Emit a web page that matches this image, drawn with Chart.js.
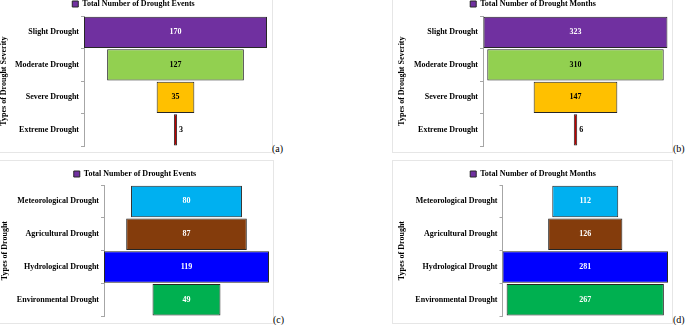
<!DOCTYPE html>
<html>
<head>
<meta charset="utf-8">
<script src="https://cdn.jsdelivr.net/npm/chart.js@4.4.0/dist/chart.umd.min.js"></script>
<style>
  body { margin: 0; background: #fff; width: 685px; height: 325px; overflow: hidden; position: relative; }
  .frame { position: absolute; box-sizing: border-box; border: 1px solid #e6e6e6; }
  canvas { position: absolute; }
  .tag { position: absolute; font: 10px "Liberation Serif", serif; line-height: 12px; color: #000; }
</style>
</head>
<body>
<div class="frame" style="left:-1px;top:-1px;width:274px;height:154px"></div>
<div class="frame" style="left:392px;top:-1px;width:281px;height:154px"></div>
<div class="frame" style="left:-1px;top:160px;width:275px;height:164px"></div>
<div class="frame" style="left:392px;top:160px;width:281px;height:164px"></div>

<canvas id="chartA" width="272" height="153" style="left:0;top:0"></canvas>
<canvas id="chartB" width="281" height="153" style="left:392px;top:0"></canvas>
<canvas id="chartC" width="273" height="163" style="left:0;top:160px"></canvas>
<canvas id="chartD" width="281" height="163" style="left:392px;top:160px"></canvas>

<span class="tag" style="left:272px;top:143px">(a)</span>
<span class="tag" style="left:673px;top:143px">(b)</span>
<span class="tag" style="left:273px;top:314px">(c)</span>
<span class="tag" style="left:673px;top:314px">(d)</span>

<script>
const severityLabels = ["Slight Drought", "Moderate Drought", "Severe Drought", "Extreme Drought"];
const severityEvents = [170, 127, 35, 3];
const severityMonths = [323, 310, 147, 6];

const typeLabels = ["Meteorological Drought", "Agricultural Drought", "Hydrological Drought", "Environmental Drought"];
const typeEvents = [80, 87, 119, 49];
const typeMonths = [112, 126, 281, 267];

const severityColors = ["#7030A0", "#92D050", "#FFC000", "#C00000"];
const typeColors = ["#00B0F0", "#843C0C", "#0000FF", "#00B050"];

const FONT = "'Liberation Serif', 'Times New Roman', serif";

// writes the value in the middle of each bar, or just right of it when the bar is too thin
const valueLabels = {
  id: "valueLabels",
  afterDatasetsDraw(chart) {
    const ctx = chart.ctx;
    const ds = chart.data.datasets[0];
    const meta = chart.getDatasetMeta(0);
    ctx.save();
    ctx.font = "bold 8px " + FONT;
    ctx.textBaseline = "middle";
    meta.data.forEach((bar, i) => {
      const text = String(ds.values[i]);
      const left = Math.min(bar.x, bar.base);
      const right = Math.max(bar.x, bar.base);
      const w = ctx.measureText(text).width;
      if (right - left < w + 6) {
        ctx.fillStyle = "#000";
        ctx.textAlign = "left";
        ctx.fillText(text, right + 2, bar.y);
      } else {
        ctx.fillStyle = ds.textColors[i];
        ctx.textAlign = "center";
        ctx.fillText(text, (left + right) / 2, bar.y);
      }
    });
    ctx.restore();
  },
};

function funnelChart(id, labels, values, cfg) {
  const ctx = document.getElementById(id).getContext("2d");
  return new Chart(ctx, {
    type: "bar",
    data: {
      labels: labels,
      datasets: [
        {
          label: cfg.legend,
          data: values.map((v) => [-v / 2, v / 2]),
          values: values,
          textColors: cfg.textColors,
          backgroundColor: cfg.colors,
          borderColor: "#262626",
          borderWidth: 1,
          borderSkipped: false,
          barPercentage: 0.96,
          categoryPercentage: 1,
        },
      ],
    },
    options: {
      indexAxis: "y",
      responsive: false,
      animation: false,
      layout: { padding: cfg.padding },
      plugins: {
        tooltip: { enabled: false },
        legend: {
          position: "top",
          maxHeight: cfg.legendHeight,
          labels: {
            padding: 0,
            boxWidth: 6,
            boxHeight: 6,
            color: "#000",
            font: { family: FONT, size: 8, weight: "bold" },
            generateLabels: () => [
              {
                text: cfg.legend,
                fillStyle: "#7030A0",
                strokeStyle: "#262626",
                lineWidth: 1,
                hidden: false,
                datasetIndex: 0,
              },
            ],
          },
        },
      },
      scales: {
        x: {
          display: false,
          min: -cfg.range,
          max: cfg.range,
        },
        y: {
          afterFit: (scale) => {
            scale.width = cfg.axisWidth;
          },
          border: { color: "#a6a6a6", width: 1 },
          grid: {
            drawOnChartArea: false,
            tickLength: 3,
            color: "#a6a6a6",
          },
          ticks: {
            padding: 2,
            color: "#000",
            font: { family: FONT, size: 8, weight: "bold" },
          },
          title: {
            display: true,
            text: cfg.title,
            color: "#000",
            padding: 0,
            font: { family: FONT, size: 8, weight: "bold", lineHeight: 1 },
          },
        },
      },
    },
    plugins: [valueLabels],
  });
}

funnelChart("chartA", severityLabels, severityEvents, {
  legend: "Total Number of Drought Events",
  title: "Types of Drought Severity",
  colors: severityColors,
  textColors: ["#fff", "#000", "#000", "#000"],
  range: 85,
  axisWidth: 84,
  legendHeight: 16,
  padding: { left: 0, right: 5, top: 0, bottom: 6 },
});

funnelChart("chartB", severityLabels, severityMonths, {
  legend: "Total Number of Drought Months",
  title: "Types of Drought Severity",
  colors: severityColors,
  textColors: ["#fff", "#000", "#000", "#000"],
  range: 162.5,
  axisWidth: 85,
  legendHeight: 16,
  padding: { left: 6, right: 5, top: 0, bottom: 6 },
});

funnelChart("chartC", typeLabels, typeEvents, {
  legend: "Total Number of Drought Events",
  title: "Types of Drought",
  colors: typeColors,
  textColors: ["#fff", "#fff", "#fff", "#fff"],
  range: 59.5,
  axisWidth: 103,
  legendHeight: 15,
  padding: { left: 1, right: 4, top: 10, bottom: 6 },
});

funnelChart("chartD", typeLabels, typeMonths, {
  legend: "Total Number of Drought Months",
  title: "Types of Drought",
  colors: typeColors,
  textColors: ["#fff", "#fff", "#fff", "#fff"],
  range: 140.5,
  axisWidth: 104.5,
  legendHeight: 15,
  padding: { left: 6, right: 5, top: 10, bottom: 6 },
});
</script>
</body>
</html>
